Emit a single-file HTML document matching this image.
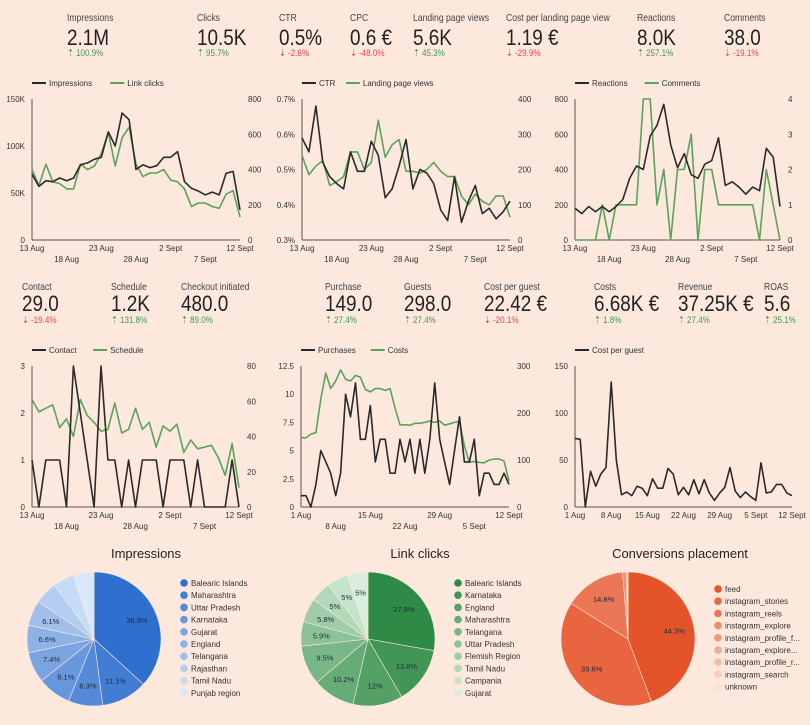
<!DOCTYPE html>
<html><head><meta charset="utf-8">
<style>
html,body{margin:0;padding:0;background:#fde8dd;}
svg{display:block;font-family:"Liberation Sans",sans-serif;}
.lbl{font-size:10.5px;fill:#444;}
.val{font-size:22px;fill:#222;}
.up{font-size:9.5px;fill:#3f9a4f;}
.dn{font-size:9.5px;fill:#e0464a;}
.tick{font-size:8px;fill:#333;}
.leg{font-size:8px;fill:#333;}
.ptitle{font-size:13px;fill:#222;}
.plab{font-size:7.5px;fill:#1e2a3a;}
</style></head>
<body>
<svg id="dash" width="810" height="725" viewBox="0 0 810 725">
<rect width="810" height="725" fill="#fde8dd"/>
<g id="kpis"></g>
<g id="charts"></g>
<g id="pies"></g>
</svg>
<script>
// ---------- KPI data ----------
const kpiLabels1 = ["Impressions","Clicks","CTR","CPC","Landing page views","Cost per landing page view","Reactions","Comments"];
const kpiValues1 = ["2.1M","10.5K","0.5%","0.6 €","5.6K","1.19 €","8.0K","38.0"];
const kpiChanges1 = ["100.9%","95.7%","-2.6%","-48.0%","45.3%","-29.9%","257.1%","-19.1%"];
const kpiLabels2 = ["Contact","Schedule","Checkout initiated","Purchase","Guests","Cost per guest","Costs","Revenue","ROAS"];
const kpiValues2 = ["29.0","1.2K","480.0","149.0","298.0","22.42 €","6.68K €","37.25K €","5.6"];
const kpiChanges2 = ["-19.4%","131.8%","89.0%","27.4%","27.4%","-20.1%","1.8%","27.4%","25.1%"];

// ---------- Line chart data ----------
const datesA = ["13 Aug","18 Aug","23 Aug","28 Aug","2 Sept","7 Sept","12 Sept"];
const datesB = ["1 Aug","8 Aug","15 Aug","22 Aug","29 Aug","5 Sept","12 Sept"];
const impressions = [70,57,63,62,66,63,66,80,82,86,88,115,100,135,128,75,80,77,79,88,88,94,62,55,52,48,51,48,71,73,32];
const linkClicks = [400,310,430,330,320,290,290,430,400,420,490,610,420,580,640,430,360,380,380,400,340,330,290,190,210,210,190,180,260,280,130];
const ctr = [0.59,0.55,0.68,0.52,0.48,0.46,0.445,0.55,0.495,0.495,0.58,0.54,0.42,0.445,0.51,0.585,0.445,0.5,0.49,0.46,0.385,0.355,0.48,0.35,0.41,0.455,0.375,0.39,0.36,0.38,0.41];
const landingViews = [240,185,210,225,155,165,180,250,250,200,220,340,235,270,285,195,195,190,200,220,195,180,180,125,100,130,110,100,125,125,65];
const reactions = [180,150,190,160,190,160,190,230,350,420,400,590,650,770,540,410,490,370,350,430,450,580,310,330,300,260,300,280,520,470,190];
const comments = [0,0,0,0,1,0,1,1,1,1,4,4,1,2,0,2,2,3,0,2,2,1,1,1,1,1,1,0,2,1,0];
const contact = [1,0,1,1,1,0,3,2,1,0,3,1,1,0,1,0,1,1,1,0,1,1,1,0,1,0,0,0,0,1,0];
const schedule = [61,54,56,58,45,50,40,61,52,48,43,44,59,42,44,56,44,48,34,46,43,47,31,38,33,34,35,28,18,36,11];
const purchases = [1,1,0,2,5,4,3,1,3,10,8,11,6,6,9,4,6,6,3,3,6,4,6,3,6,3,6,11,6,4,2,5,8,4,4,6,1,3,3,2,2,3,2];
const costs = [148,147,155,158,230,285,252,268,292,272,268,280,276,250,245,252,252,248,252,210,175,175,174,178,178,180,183,180,183,174,177,180,182,130,95,97,95,94,100,102,102,98,55];
const costPerGuest = [73,72,0,38,22,35,42,133,50,13,16,12,22,20,12,30,20,20,41,35,13,21,13,29,14,29,15,7,15,21,42,17,10,16,11,7,47,15,16,24,24,15,12];

const ticksImpr = ["0","50K","100K","150K"];
const ticks800 = ["0","200","400","600","800"];
const ticksCtr = ["0.3%","0.4%","0.5%","0.6%","0.7%"];
const ticks400 = ["0","100","200","300","400"];
const ticks4 = ["0","1","2","3","4"];
const ticks3 = ["0","1","2","3"];
const ticks80 = ["0","20","40","60","80"];
const ticks125 = ["0","2.5","5","7.5","10","12.5"];
const ticks300 = ["0","100","200","300"];
const ticks150 = ["0","50","100","150"];

// ---------- Pie data ----------
const pie1Labels = ["Balearic Islands","Maharashtra","Uttar Pradesh","Karnataka","Gujarat","England","Telangana","Rajasthan","Tamil Nadu","Punjab region"];
const pie1Values = [36.8,11.1,8.3,8.1,7.4,6.6,6.1,5.5,5.1,5.0];
const pie2Labels = ["Balearic Islands","Karnataka","England","Maharashtra","Telangana","Uttar Pradesh","Flemish Region","Tamil Nadu","Campania","Gujarat"];
const pie2Values = [27.8,13.8,12,10.2,9.5,5.9,5.8,5,5,5];
const pie3Labels = ["feed","instagram_stories","instagram_reels","instagram_explore","instagram_profile_f...","instagram_explore...","instagram_profile_r...","instagram_search","unknown"];
const pie3Values = [44.3,39.6,14.8,0.8,0.3,0.1,0.05,0.03,0.02];

const NS = "http://www.w3.org/2000/svg";
function mk(tag, attrs, parent, text){
  const e = document.createElementNS(NS, tag);
  for (const k in attrs) e.setAttribute(k, attrs[k]);
  if (text !== undefined) e.textContent = text;
  parent.appendChild(e);
  return e;
}

// KPIs
const kpiG = document.getElementById("kpis");
const kx1 = [67,197,279,350,413,506,637,724];
const kx2 = [22,111,181,325,404,484,594,678,764];
function drawKpis(labels, values, changes, xs, yL, yV, yC){
  labels.forEach((l,i)=>{
    const g = mk("g",{},kpiG);
    
    
    mk("text",{x:0,y:0,class:"lbl",transform:`translate(${xs[i]},${yL}) scale(0.82,1)`},g,l);
    mk("text",{x:0,y:0,class:"val",transform:`translate(${xs[i]},${yV}) scale(0.86,1)`},g,values[i]);
    const neg = changes[i].startsWith("-");
    mk("text",{x:0,y:0,class:neg?"dn":"up",transform:`translate(${xs[i]},${yC}) scale(0.85,1)`},g,(neg?"⇣ ":"⇡ ")+changes[i]);
  });
}
drawKpis(kpiLabels1,kpiValues1,kpiChanges1,kx1,21,45,56);
drawKpis(kpiLabels2,kpiValues2,kpiChanges2,kx2,290,311,323);

// Line charts
const chG = document.getElementById("charts");
const DARK="#2a2a2a", GREEN="#5aa35a";
function lineChart(o){
  const g = mk("g",{},chG);
  
  
  const n = o.s1.length;
  const X = i => o.x0 + (o.x1-o.x0)*i/(n-1);
  const Y1 = v => o.yb - (o.yb-o.yt)*(v-o.min1)/(o.max1-o.min1);
  const Y2 = v => o.yb - (o.yb-o.yt)*(v-o.min2)/(o.max2-o.min2);
  let lx = o.x0;
  o.legend.forEach((name,k)=>{
    const lg = mk("g",{},g);
    
    
    mk("line",{x1:lx,y1:o.ly,x2:lx+14,y2:o.ly,stroke:k?GREEN:DARK,"stroke-width":2},lg);
    mk("text",{x:lx+17,y:o.ly+3,class:"leg"},lg,name);
    lx += 17 + name.length*4.3 + 14;
  });
  mk("line",{x1:o.x0,y1:o.yt,x2:o.x0,y2:o.yb,stroke:"#555","stroke-width":1},g);
  mk("line",{x1:o.x0,y1:o.yb,x2:o.x1,y2:o.yb,stroke:"#555","stroke-width":1},g);
  o.t1.forEach((t,i)=>{
    const y = o.yb - (o.yb-o.yt)*i/(o.t1.length-1);
    const e = mk("text",{x:o.x0-7,y:y+3,class:"tick","text-anchor":"end"},g,t);
    
  });
  if (o.t2) o.t2.forEach((t,i)=>{
    const y = o.yb - (o.yb-o.yt)*i/(o.t2.length-1);
    const e = mk("text",{x:o.x1+8,y:y+3,class:"tick"},g,t);
    
  });
  o.dates.forEach((d,i)=>{
    const x = o.x0 + (o.x1-o.x0)*i/(o.dates.length-1);
    const row = o.tworow ? (i%2) : 0;
    const e = mk("text",{x:x,y:o.yb+11+row*11,class:"tick","text-anchor":"middle"},g,d);
    
  });
  const path = (arr,Y) => arr.map((v,i)=>(i?"L":"M")+X(i).toFixed(1)+","+Y(v).toFixed(1)).join("");
  if (o.s2){
    const p2 = mk("path",{d:path(o.s2,Y2),fill:"none",stroke:GREEN,"stroke-width":1.6,"stroke-linejoin":"round"},g);
    
  }
  const p1 = mk("path",{d:path(o.s1,Y1),fill:"none",stroke:DARK,"stroke-width":1.6,"stroke-linejoin":"round"},g);
  
}
lineChart({name:"impressions-clicks-chart",x0:32,x1:240,yt:99,yb:240,ly:83,s1:impressions,min1:0,max1:150,s2:linkClicks,min2:0,max2:800,t1:ticksImpr,t2:ticks800,dates:datesA,tworow:true,legend:["Impressions","Link clicks"]});
lineChart({name:"ctr-landing-chart",x0:302,x1:510,yt:99,yb:240,ly:83,s1:ctr,min1:0.3,max1:0.7,s2:landingViews,min2:0,max2:400,t1:ticksCtr,t2:ticks400,dates:datesA,tworow:true,legend:["CTR","Landing page views"]});
lineChart({name:"reactions-comments-chart",x0:575,x1:780,yt:99,yb:240,ly:83,s1:reactions,min1:0,max1:800,s2:comments,min2:0,max2:4,t1:ticks800,t2:ticks4,dates:datesA,tworow:true,legend:["Reactions","Comments"]});
lineChart({name:"contact-schedule-chart",x0:32,x1:239,yt:366,yb:507,ly:350,s1:contact,min1:0,max1:3,s2:schedule,min2:0,max2:80,t1:ticks3,t2:ticks80,dates:datesA,tworow:true,legend:["Contact","Schedule"]});
lineChart({name:"purchases-costs-chart",x0:301,x1:509,yt:366,yb:507,ly:350,s1:purchases,min1:0,max1:12.5,s2:costs,min2:0,max2:300,t1:ticks125,t2:ticks300,dates:datesB,tworow:true,legend:["Purchases","Costs"]});
lineChart({name:"cost-per-guest-chart",x0:575,x1:792,yt:366,yb:507,ly:350,s1:costPerGuest,min1:0,max1:150,t1:ticks150,dates:datesB,tworow:false,legend:["Cost per guest"]});

// Pies
const pieG = document.getElementById("pies");
function lerpColor(a,b,t){
  const pa=a.match(/\w\w/g).map(h=>parseInt(h,16)), pb=b.match(/\w\w/g).map(h=>parseInt(h,16));
  return "rgb("+pa.map((v,i)=>Math.round(v+(pb[i]-v)*t)).join(",")+")";
}
function pie(o){
  const g = mk("g",{},pieG);
  
  
  const tt = mk("text",{x:o.tx,y:558,class:"ptitle","text-anchor":"middle"},g,o.title);
  
  const total = o.values.reduce((a,b)=>a+b,0);
  let a0 = -Math.PI/2;
  const n = o.values.length;
  o.values.forEach((v,i)=>{
    const a1 = a0 + 2*Math.PI*v/total;
    const col = lerpColor(o.c0,o.c1,i/(n-1));
    const x0=o.cx+o.r*Math.cos(a0), y0=o.cy+o.r*Math.sin(a0);
    const x1=o.cx+o.r*Math.cos(a1), y1=o.cy+o.r*Math.sin(a1);
    const large = (a1-a0)>Math.PI?1:0;
    const s = mk("path",{d:`M${o.cx},${o.cy}L${x0.toFixed(2)},${y0.toFixed(2)}A${o.r},${o.r} 0 ${large} 1 ${x1.toFixed(2)},${y1.toFixed(2)}Z`,fill:col,stroke:"#fde8dd","stroke-width":0.6},g);
    
    
    const pct = v/total*100;
    if (pct >= o.minLabel){
      const am=(a0+a1)/2;
      const e = mk("text",{x:o.cx+o.r*0.7*Math.cos(am),y:o.cy+o.r*0.7*Math.sin(am)+3,class:"plab","text-anchor":"middle"},g,(Math.round(pct*10)/10)+"%");
      
    }
    const ly = o.ly + i*12.2;
    const le = mk("g",{},g);
    
    
    mk("circle",{cx:o.lx,cy:ly,r:3.8,fill:col},le);
    mk("text",{x:o.lx+7,y:ly+3,class:"leg"},le,o.labels[i]);
    a0 = a1;
  });
}
pie({name:"impressions-pie",title:"Impressions",tx:146,cx:94,cy:639,r:67,values:pie1Values,labels:pie1Labels,c0:"2f6fce",c1:"d9e8fa",lx:184,ly:583,minLabel:6});
pie({name:"link-clicks-pie",title:"Link clicks",tx:420,cx:368,cy:639,r:67,values:pie2Values,labels:pie2Labels,c0:"2e8b45",c1:"d8eedb",lx:458,ly:583,minLabel:4.9});
pie({name:"conversions-placement-pie",title:"Conversions placement",tx:680,cx:628,cy:639,r:67,values:pie3Values,labels:pie3Labels,c0:"e5532a",c1:"f9e0d6",lx:718,ly:589,minLabel:5});
</script>
</body></html>
